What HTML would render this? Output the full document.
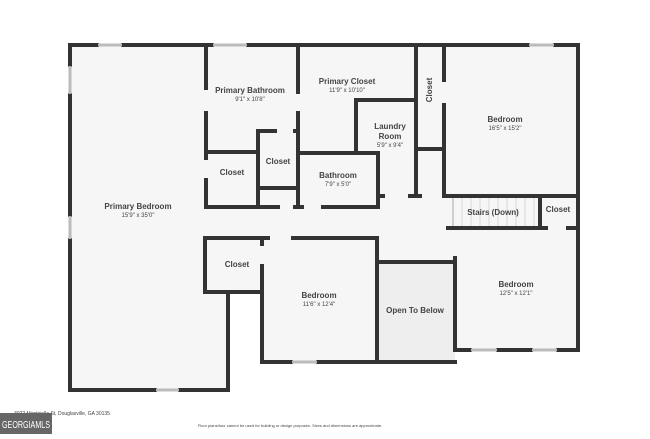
<!DOCTYPE html>
<html><head><style>
html,body{margin:0;padding:0;background:#fff;}
svg text{font-family:"Liberation Sans",sans-serif;fill:#444;text-anchor:middle;font-weight:bold;}
.n{font-size:8px}.d{font-size:6px;font-weight:normal}
</style></head><body>
<svg width="650" height="434" viewBox="0 0 650 434" xmlns="http://www.w3.org/2000/svg">
<polygon points="70,45 578,45 578,350 455,350 455,362 262,362 262,292 228,292 228,390 70,390" fill="#f6f6f6"/>
<rect x="377" y="262" width="78" height="100" fill="#eeeeee"/>
<g stroke="#d8d8d8" stroke-width="1">
<line x1="462" y1="198" x2="462" y2="227"/><line x1="471" y1="198" x2="471" y2="227"/><line x1="480" y1="198" x2="480" y2="227"/><line x1="489" y1="198" x2="489" y2="227"/><line x1="498" y1="198" x2="498" y2="227"/><line x1="507" y1="198" x2="507" y2="227"/><line x1="516" y1="198" x2="516" y2="227"/><line x1="525" y1="198" x2="525" y2="227"/><line x1="534" y1="198" x2="534" y2="227"/>
<line x1="453" y1="198" x2="453" y2="227" stroke="#aaa"/>
</g>
<g stroke="#333" stroke-width="4" fill="none" stroke-linecap="square">
<path d="M70,45H97M123,45H212M248,45H528M555,45H578V350"/>
<path d="M70,45V65M70,95V215M70,240V390H155M180,390H228V292"/>
<path d="M205,238V292H262M205,238H268M293,238H377V362M377,262H455M262,238V244M262,266V362H291M318,362H455"/>
<path d="M455,258V350H470M498,350H531M558,350H578"/>
<path d="M448,228H546M568,228H578M540,196V228M445,196H578"/>
<path d="M444,45V80M444,105V196M416,45V196M416,149H444"/>
<path d="M380,196H383M410,196H420"/>
<path d="M356,153V100H416"/>
<path d="M298,153H378V207H323M302,207H295M278,207H206"/>
<path d="M206,45V88M206,113V158M206,180V207M206,152H258"/>
<path d="M298,45V92M298,113V207M258,207V131H275M295,131H298M258,188H298"/>
</g>
<g stroke="#bbb" stroke-width="3">
<line x1="98" y1="45" x2="122" y2="45"/><line x1="213" y1="45" x2="247" y2="45"/><line x1="529" y1="45" x2="554" y2="45"/>
<line x1="70" y1="66" x2="70" y2="94"/><line x1="70" y1="216" x2="70" y2="239"/>
<line x1="156" y1="390" x2="179" y2="390"/><line x1="292" y1="362" x2="317" y2="362"/>
<line x1="471" y1="350" x2="497" y2="350"/><line x1="532" y1="350" x2="557" y2="350"/>
</g>
<text class="n" x="250" y="93">Primary Bathroom</text><text class="d" x="250" y="101">9'1" x 10'8"</text>
<text class="n" x="347" y="84">Primary Closet</text><text class="d" x="347" y="92">11'9" x 10'10"</text>
<text class="n" x="390" y="129">Laundry</text><text class="n" x="390" y="139">Room</text><text class="d" x="390" y="147">5'9" x 9'4"</text>
<text class="n" x="505" y="122">Bedroom</text><text class="d" x="505" y="130">16'5" x 15'2"</text>
<text class="n" transform="translate(432,90) rotate(-90)">Closet</text>
<text class="n" x="232" y="175">Closet</text><text class="n" x="278" y="164">Closet</text>
<text class="n" x="338" y="178">Bathroom</text><text class="d" x="338" y="186">7'9" x 5'0"</text>
<text class="n" x="138" y="209">Primary Bedroom</text><text class="d" x="138" y="217">15'9" x 35'0"</text>
<text class="n" x="493" y="215">Stairs (Down)</text><text class="n" x="558" y="212">Closet</text>
<text class="n" x="237" y="267">Closet</text>
<text class="n" x="319" y="298">Bedroom</text><text class="d" x="319" y="306">11'6" x 12'4"</text>
<text class="n" x="415" y="313">Open To Below</text>
<text class="n" x="516" y="287">Bedroom</text><text class="d" x="516" y="295">12'5" x 12'1"</text>
<text class="d" x="62" y="415" style="font-size:5px">3922 Monticello St, Douglasville, GA 30135</text>
<text class="d" x="290" y="427" style="font-size:4px">Floor plans/tour cannot be used for building or design purposes. Sizes and dimensions are approximate.</text>
<rect x="0" y="413" width="52" height="21" fill="#666"/>
<text x="26" y="428" textLength="48" lengthAdjust="spacingAndGlyphs" style="font-size:10px;fill:#fff;font-weight:normal">GEORGIAMLS</text>
</svg>
</body></html>
